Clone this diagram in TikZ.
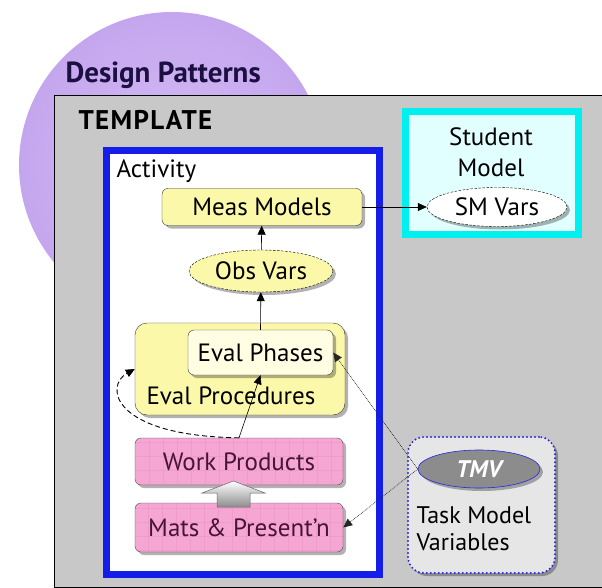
\documentclass[tikz,border=0pt]{standalone}
\usepackage{fontspec}
\setmainfont{PT Sans}
\usetikzlibrary{shapes.geometric,arrows.meta,shadows}

\definecolor{dpviolet}{RGB}{214,188,246}
\definecolor{dpvioletdark}{RGB}{196,166,238}
\definecolor{dpnavy}{RGB}{28,16,64}
\definecolor{tplgray}{RGB}{200,200,200}
\definecolor{actblue}{RGB}{20,30,232}
\definecolor{procyellow}{RGB}{252,248,170}
\definecolor{phaseyellow}{RGB}{255,253,226}
\definecolor{wppink}{RGB}{246,166,210}
\definecolor{wpgrid}{RGB}{238,156,202}
\definecolor{wptext}{RGB}{72,20,52}
\definecolor{smcyan}{RGB}{0,240,240}
\definecolor{smfill}{RGB}{226,255,255}
\definecolor{tmvgray}{RGB}{140,140,140}
\definecolor{tmboxgray}{RGB}{230,230,230}
\definecolor{tmvblue}{RGB}{40,40,220}

\begin{document}
\begin{tikzpicture}[x=1pt,y=-1pt,
  every node/.style={font=\fontsize{25}{29}\selectfont},
  shade box/.style={drop shadow={shadow xshift=3pt,shadow yshift=-3pt,fill=black,opacity=.3}},
  yellowbox/.style={rectangle,rounded corners=6pt,draw=black!80,fill=procyellow,shade box,inner sep=0pt},
  pinkbox/.style={rectangle,rounded corners=6pt,draw=black!70,fill=wppink,text=wptext,shade box,inner sep=0pt,
    path picture={\draw[wpgrid,step=14pt] (path picture bounding box.south west) grid (path picture bounding box.north east);}},
  varoval/.style={ellipse,draw=black,dash pattern=on 2.5pt off 1.5pt,line width=.4pt,inner sep=0pt,shade box},
  link/.style={-{Triangle[length=9pt,width=8pt]},line width=.6pt},
  tmvlink/.style={-{Triangle[length=9pt,width=8pt]},densely dotted,draw=black!85,line width=.7pt}]
\useasboundingbox (0,0) rectangle (602,588);

\node[circle,minimum size=306pt,inner color=dpviolet,outer color=dpvioletdark] (dp) at (172,165) {};
\node[anchor=base west,text=dpnavy,font=\fontsize{29}{33}\selectfont\bfseries] (dplabel) at (62,83) {Design Patterns};

\node[rectangle,draw=black,line width=1pt,fill=tplgray,minimum width=556pt,minimum height=491pt] (tpl) at (332,341.5) {};
\node[anchor=base west,font=\fontsize{27}{31}\selectfont\bfseries\addfontfeature{LetterSpace=5}] (tpllabel) at (75,130) {TEMPLATE};

\node[rectangle,draw=actblue,line width=7pt,fill=white,minimum width=273pt,minimum height=424pt,shade box] (act) at (243,362.5) {};
\node[anchor=base west] (actlabel) at (113,178) {Activity};

\node[yellowbox,minimum width=200pt,minimum height=37pt] (meas) at (262,207) {Meas Models};
\node[varoval,fill=procyellow,minimum width=144pt,minimum height=42pt] (obs) at (261,271) {Obs Vars};

\node[yellowbox,rounded corners=12pt,minimum width=210pt,minimum height=92pt] (evalproc) at (240,369) {};
\node[anchor=base west] (evalproclabel) at (143,404) {Eval Procedures};
\node[yellowbox,fill=phaseyellow,minimum width=145pt,minimum height=45pt] (evalph) at (260.5,352.5) {Eval Phases};

\node[pinkbox,minimum width=208pt,minimum height=47pt] (wp) at (239,461.5) {Work Products};
\node[pinkbox,minimum width=208pt,minimum height=49pt] (mats) at (239,527.5) {Mats \& Present'n};

\shade[top color=white,bottom color=black!45,draw=black!60,line width=.5pt]
  (217,507) -- (217,493) -- (202,493) -- (233.5,481) -- (265,493) -- (250,493) -- (250,507) -- cycle;

\node[rectangle,draw=smcyan,line width=7pt,fill=smfill,minimum width=173pt,minimum height=123pt,shade box] (student) at (492,173) {};
\node[align=center,font=\fontsize{25}{31}\selectfont] (studentlabel) at (491,152) {Student\\Model};
\node[varoval,fill=white,minimum width=140pt,minimum height=39pt] (smvars) at (497,207) {SM Vars};

\node[rectangle,rounded corners=16pt,draw=tmvblue,line width=2.2pt,line cap=round,dash pattern=on 0pt off 4pt,fill=tmboxgray,minimum width=147pt,minimum height=136pt,shade box] (tmbox) at (481.5,505) {};
\node[ellipse,draw=tmvblue,line width=.6pt,fill=tmvgray,text=white,minimum width=122pt,minimum height=38pt,inner sep=0pt,shade box,font=\fontsize{24}{28}\selectfont\bfseries\itshape] (tmv) at (479,469) {TMV};
\node[anchor=north west,align=left,font=\fontsize{24}{27}\selectfont] (tmlabel) at (413,503) {Task Model\\Variables};

\draw[link] (obs) -- (meas);
\draw[link] (evalph.north) -- (obs);
\draw[link] (meas) -- (smvars);
\draw[link] (wp.north) -- (evalph.south);
\draw[link,dash pattern=on 5pt off 3pt,line width=.9pt] (wp.north) .. controls (112,436) and (104,386) .. (evalproc.west);
\draw[tmvlink] (tmv.west) -- (evalph.east);
\draw[tmvlink] (tmv.west) -- (mats.east);
\end{tikzpicture}
\end{document}
